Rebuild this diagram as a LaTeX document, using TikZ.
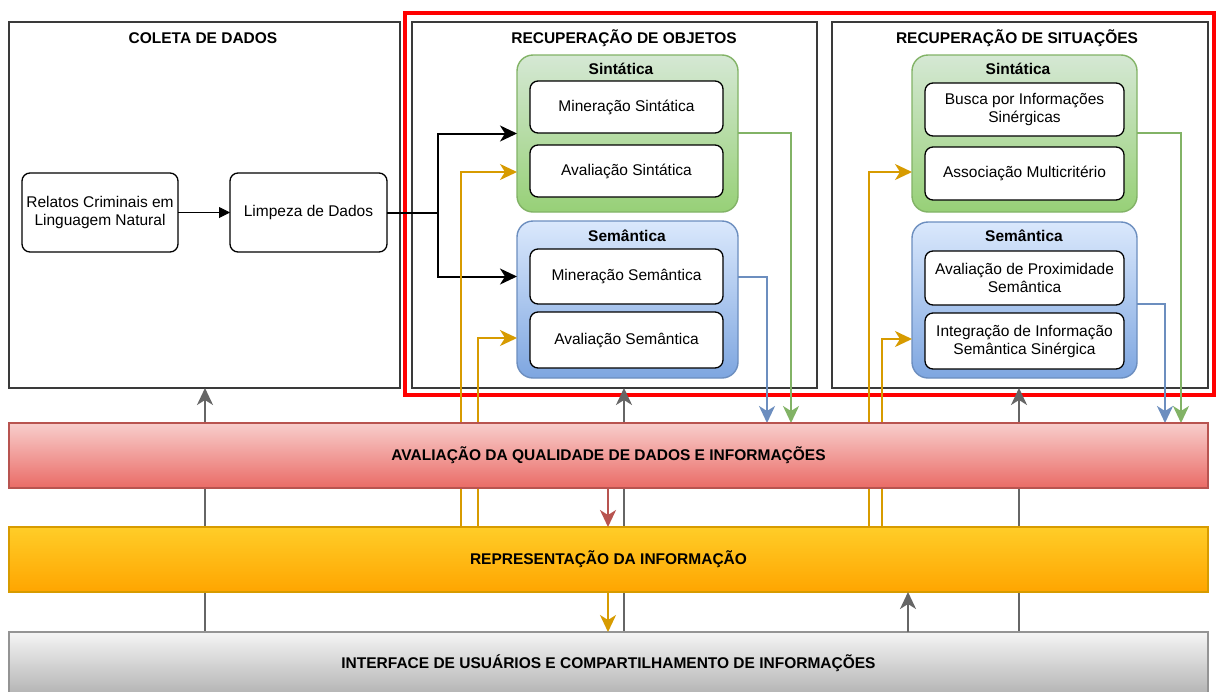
\documentclass[tikz,border=0pt]{standalone}
\usepackage{fontspec}
\setmainfont{Liberation Sans}
\usetikzlibrary{arrows.meta,calc}
\definecolor{grtop}{HTML}{D5E8D4}\definecolor{grbot}{HTML}{97D077}\definecolor{grdraw}{HTML}{82B366}
\definecolor{bltop}{HTML}{DAE8FC}\definecolor{blbot}{HTML}{7EA6E0}\definecolor{bldraw}{HTML}{6C8EBF}
\definecolor{rdtop}{HTML}{F8CECC}\definecolor{rdbot}{HTML}{EA6B66}\definecolor{rddraw}{HTML}{B85450}
\definecolor{ortop}{HTML}{FFCD28}\definecolor{orbot}{HTML}{FFA500}\definecolor{ordraw}{HTML}{D79B00}
\definecolor{gytop}{HTML}{F5F5F5}\definecolor{gybot}{HTML}{B3B3B3}\definecolor{gydraw}{HTML}{666666}
\definecolor{framegray}{HTML}{3A3A3A}
\begin{document}
\begin{tikzpicture}[x=1pt,y=-1pt,
  every node/.style={font=\fontsize{15.5}{18}\selectfont, inner sep=0pt, outer sep=0pt, align=center},
  outerbox/.style={draw=framegray, line width=1.4pt, fill=white, rectangle},
  title/.style={font=\fontsize{15.5}{18}\selectfont\bfseries},
  grp/.style={rectangle, rounded corners=16pt, line width=1.4pt},
  grngrp/.style={grp, draw=grdraw, top color=grtop, bottom color=grbot},
  blugrp/.style={grp, draw=bldraw, top color=bltop, bottom color=blbot},
  inbox/.style={rectangle, rounded corners=8pt, draw=black, line width=1.3pt, fill=white},
  bar/.style={rectangle, line width=1.2pt, minimum width=1199pt, font=\fontsize{15.5}{18}\selectfont\bfseries},
  tip/.style={-{Stealth[length=17pt,width=16pt,inset=5pt]}},
  grayarrow/.style={tip, draw=gydraw, line width=2pt},
  blkarrow/.style={tip, draw=black, line width=2pt},
  orarrow/.style={tip, draw=ordraw, line width=2pt},
  grarrow/.style={tip, draw=grdraw, line width=2pt},
  blarrow/.style={tip, draw=bldraw, line width=2pt},
  rdarrow/.style={tip, draw=rddraw, line width=2pt}
]
\useasboundingbox (0,0) rectangle (1217,691);
\clip (0,0) rectangle (1217,691);
\fill[white] (0,0) rectangle (1217,691);

% outer boxes
\node[outerbox, minimum width=391pt, minimum height=366pt] (coleta) at (204.5,205) {};
\node[title] at (203,38) {COLETA DE DADOS};
\node[outerbox, minimum width=405pt, minimum height=366pt] (objetos) at (614.5,205) {};
\node[title] at (624,38) {RECUPERAÇÃO DE OBJETOS};
\node[outerbox, minimum width=376pt, minimum height=366pt] (situacoes) at (1020,205) {};
\node[title] at (1017,38) {RECUPERAÇÃO DE SITUAÇÕES};

% red frame
\draw[red, line width=4pt] (404.5,12.5) rectangle (1214,395);

% coleta content
\node[inbox, minimum width=156pt, minimum height=79pt] (relatos) at (100,212.5) {Relatos Criminais em\\Linguagem Natural};
\node[inbox, minimum width=157pt, minimum height=79pt] (limpeza) at (308.5,212.5) {Limpeza de Dados};
\draw[-{Triangle[length=11pt,width=11pt]}, line width=1pt] (relatos) -- (limpeza);

% objetos groups
\node[grngrp, minimum width=221pt, minimum height=157pt] (ogrn) at (627.5,133.5) {};
\node[title] at (621,69) {Sintática};
\node[inbox, minimum width=193pt, minimum height=52pt] (minsint) at (626.5,107) {Mineração Sintática};
\node[inbox, minimum width=193pt, minimum height=52pt] (avsint) at (626.5,171) {Avaliação Sintática};
\node[blugrp, minimum width=221pt, minimum height=157pt] (oblu) at (627.5,299.5) {};
\node[title] at (627,236) {Semântica};
\node[inbox, minimum width=193pt, minimum height=55pt] (minsem) at (626.5,276.5) {Mineração Semântica};
\node[inbox, minimum width=193pt, minimum height=56pt] (avsem) at (626.5,340) {Avaliação Semântica};

% situacoes groups
\node[grngrp, minimum width=225pt, minimum height=157pt] (sgrn) at (1024.5,133.5) {};
\node[title] at (1018,69) {Sintática};
\node[inbox, minimum width=199pt, minimum height=53pt] (busca) at (1024.5,109.5) {Busca por Informações\\Sinérgicas};
\node[inbox, minimum width=199pt, minimum height=53pt] (assoc) at (1024.5,173.5) {Associação Multicritério};
\node[blugrp, minimum width=225pt, minimum height=156pt] (sblu) at (1024.5,300) {};
\node[title] at (1024,236) {Semântica};
\node[inbox, minimum width=199pt, minimum height=54pt] (avprox) at (1024.5,278) {Avaliação de Proximidade\\Semântica};
\node[inbox, minimum width=199pt, minimum height=56pt] (integ) at (1024.5,341) {Integração de Informação\\Semântica Sinérgica};

% bars positions (coordinates for connectors)
\coordinate (avaltop) at (608.5,423);
\coordinate (reprtop) at (608.5,527);
\coordinate (intftop) at (608.5,632);

% black arrows
\coordinate (bsplit) at (438,212.5);
\draw[line width=2pt] (limpeza.east) -- (bsplit);
\draw[blkarrow] (bsplit) |- (ogrn.west);
\draw[blkarrow] (bsplit) |- (oblu.west |- minsem.east);

% gray arrows through the layers
\draw[grayarrow] (intftop -| 205,0) -- (coleta.south -| 205,0);
\draw[grayarrow] (intftop -| 624,0) -- (objetos.south -| 624,0);
\draw[grayarrow] (intftop -| 1019,0) -- (situacoes.south -| 1019,0);

% orange feedback lines
\draw[orarrow] (reprtop -| 461,0) |- (ogrn.west |- 0,172);
\draw[orarrow] (reprtop -| 478,0) |- (oblu.west |- 0,338);
\draw[orarrow] (reprtop -| 869,0) |- (sgrn.west |- 0,172);
\draw[orarrow] (reprtop -| 882,0) |- (sblu.west |- 0,339);

% outputs to quality bar
\draw[grarrow] (ogrn.east |- minsint.south) -| (avaltop -| 791,0);
\draw[blarrow] (oblu.east |- minsem.east) -| (avaltop -| 767,0);
\draw[grarrow] (sgrn.east |- 0,133) -| (avaltop -| 1181,0);
\draw[blarrow] (sblu.east |- 0,304) -| (avaltop -| 1165,0);

% bars
\node[bar, draw=rddraw, top color=rdtop, bottom color=rdbot, minimum height=65pt] (aval) at (608.5,455.5) {AVALIAÇÃO DA QUALIDADE DE DADOS E INFORMAÇÕES};
\node[bar, draw=ordraw, top color=ortop, bottom color=orbot, minimum height=65pt] (repr) at (608.5,559.5) {REPRESENTAÇÃO DA INFORMAÇÃO};
\node[bar, draw=gydraw!70, top color=gytop, bottom color=gybot, minimum height=63pt] (intf) at (608.5,663.5) {INTERFACE DE USUÁRIOS E COMPARTILHAMENTO DE INFORMAÇÕES};

% arrows between bars
\draw[rdarrow] (aval.south -| 608,0) -- (repr.north -| 608,0);
\draw[orarrow] (repr.south -| 608,0) -- (intf.north -| 608,0);
\draw[grayarrow] (intf.north -| 908,0) -- (repr.south -| 908,0);
\end{tikzpicture}
\end{document}
